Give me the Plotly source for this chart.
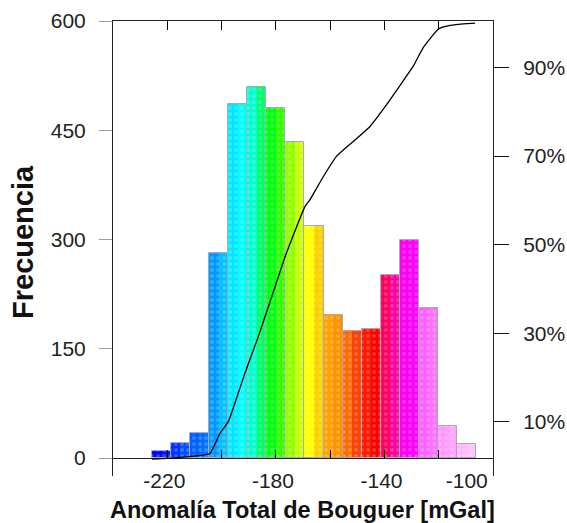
import plotly.graph_objects as go

# ---- data ----
bin_start = -225.7
bin_width = 7.03
counts = [9, 21, 34, 281, 486, 509, 480, 434, 318, 197, 174, 177, 251, 299, 206, 44, 19]

# cumulative curve (x in mGal, y in percent)
cum_x = [-225.6, -215.3, -204.3, -200.6, -197.5, -191.4, -186.5, -180.3, -176.6,
         -169.3, -167.4, -162.5, -157.6, -151.5, -145.3, -139.2, -134.3, -129.4,
         -125.7, -120.1, -115.8, -109.7, -106.6]
cum_y = [1.6, 2.0, 2.9, 7.4, 10.1, 21.0, 29.2, 40.5, 47.3,
         58.6, 60.2, 65.4, 70.0, 73.3, 76.7, 81.6, 85.9, 90.3,
         94.5, 98.7, 99.5, 99.9, 100.0]

NB = "\u00a0"
x_tickvals = [-220, -200, -180, -160, -140, -120, -100]
x_ticktext = ["-220" + NB, "", "-180" + NB, "", "-140" + NB, "", "-100" + NB * 9]
y_tickvals = [0, 150, 300, 450, 600]
pct_tickvals = [10, 30, 50, 70, 90]
pct_ticktext = ["10%", "30%", "50%", "70%", "90%"]

# ---- styles ----
left_colors = ["#0000ff", "#0033ff", "#0060ff", "#0099ff", "#00e8ff", "#00ffd0",
               "#00ff10", "#90ff00", "#ffff00", "#ffa000", "#ff6a00", "#ff1800",
               "#ff0060", "#ff00ee", "#ff60ff", "#ff99ff", "#ffb8ff"]
right_colors = ["#0010ff", "#0050ff", "#0070ff", "#00c0ff", "#00ffff", "#00ff60",
                "#30ff00", "#c8ff00", "#ffd000", "#ff9000", "#ff4000", "#ff0000",
                "#ff00a0", "#ff00ff", "#ff70ff", "#ffa4ff", "#ffc4ff"]

FONT = "Liberation Sans, Arial, sans-serif"
TXT = "#222222"

W, H = 567, 523
ML, MT, MR, MB = 113, 21, 74, 47
PW, PH = W - ML - MR, H - MT - MB

centers = [bin_start + bin_width * (i + 0.5) for i in range(len(counts))]
left_x = [c - bin_width / 4 for c in centers]
right_x = [c + bin_width / 4 for c in centers]

fig = go.Figure()
fig.add_trace(go.Bar(x=left_x, y=counts, width=bin_width / 2,
                     marker=dict(color=left_colors, line=dict(width=0)),
                     showlegend=False, hoverinfo="skip"))
fig.add_trace(go.Bar(x=right_x, y=counts, width=bin_width / 2,
                     marker=dict(color=right_colors, line=dict(width=0)),
                     showlegend=False, hoverinfo="skip"))
fig.add_trace(go.Bar(x=centers, y=counts, width=bin_width,
                     marker=dict(color="rgba(0,0,0,0)",
                                 line=dict(color="#a8a8b8", width=1),
                                 pattern=dict(shape=".", fgcolor="white", fgopacity=0.2,
                                              size=6, solidity=0.35)),
                     showlegend=False, hoverinfo="skip"))
fig.add_trace(go.Scatter(x=cum_x, y=cum_y, mode="lines", xaxis="x2", yaxis="y2",
                         line=dict(color="black", width=1.3, shape="spline", smoothing=0.4),
                         showlegend=False, hoverinfo="skip"))

def px_x(px):  # window pixel -> paper x
    return (px - ML) / PW

def px_y(py):  # window pixel -> paper y
    return (MT + PH - py) / PH

fig.update_layout(
    width=W, height=H,
    margin=dict(l=ML, r=MR, t=MT, b=MB, autoexpand=False),
    paper_bgcolor="white", plot_bgcolor="white",
    barmode="overlay", bargap=0,
    font=dict(family=FONT, color=TXT, size=21),
    xaxis=dict(range=[-240, -100], anchor="free", position=24.7 / 624.7,
               automargin=False,
               showline=False, showgrid=False, zeroline=False,
               tickvals=x_tickvals, ticktext=x_ticktext,
               ticks="inside", ticklen=8, tickcolor="black", tickwidth=1,
               ticklabelstandoff=8, tickfont=dict(size=21, color=TXT)),
    xaxis2=dict(range=[-240, -100], overlaying="x", side="top", anchor="y2",
                automargin=False,
                showline=True, linecolor="#222", linewidth=1,
                showgrid=False, zeroline=False,
                tickvals=x_tickvals[:-1], ticks="inside", ticklen=9,
                tickcolor="black", showticklabels=False),
    yaxis=dict(range=[-24.7, 600], automargin=False,
               showline=True, linecolor="#222", linewidth=1,
               showgrid=False, zeroline=True, zerolinecolor="#222", zerolinewidth=1,
               tickvals=y_tickvals, ticks="outside", ticklen=13, tickcolor="#9a9aaa",
               ticklabelstandoff=9, tickfont=dict(size=21, color=TXT)),
    yaxis2=dict(range=[-2.2, 100.5], overlaying="y", side="right", anchor="x2",
                automargin=False,
                showline=True, linecolor="#222", linewidth=1,
                showgrid=False, zeroline=False,
                tickmode="array", tickvals=pct_tickvals, ticktext=pct_ticktext,
                ticks="outside", ticklen=15, tickwidth=1.2,
                tickcolor="#111", ticklabelstandoff=10,
                tickfont=dict(size=21, color=TXT)),
    annotations=[
        dict(text="<b>Frecuencia</b>", xref="paper", yref="paper",
             x=px_x(22.5), y=px_y(242.5), textangle=-90,
             xanchor="center", yanchor="middle", showarrow=False,
             font=dict(size=29, color="#111", family=FONT)),
        dict(text="<b>Anomalía Total de Bouguer [mGal]</b>", xref="paper", yref="paper",
             x=px_x(302), y=px_y(510),
             xanchor="center", yanchor="middle", showarrow=False,
             font=dict(size=23.5, color="#111", family=FONT)),
    ],
)

fig.write_html("out.html", config={"displayModeBar": False},
               post_script="document.body.style.margin='0';document.body.style.overflow='hidden';")
